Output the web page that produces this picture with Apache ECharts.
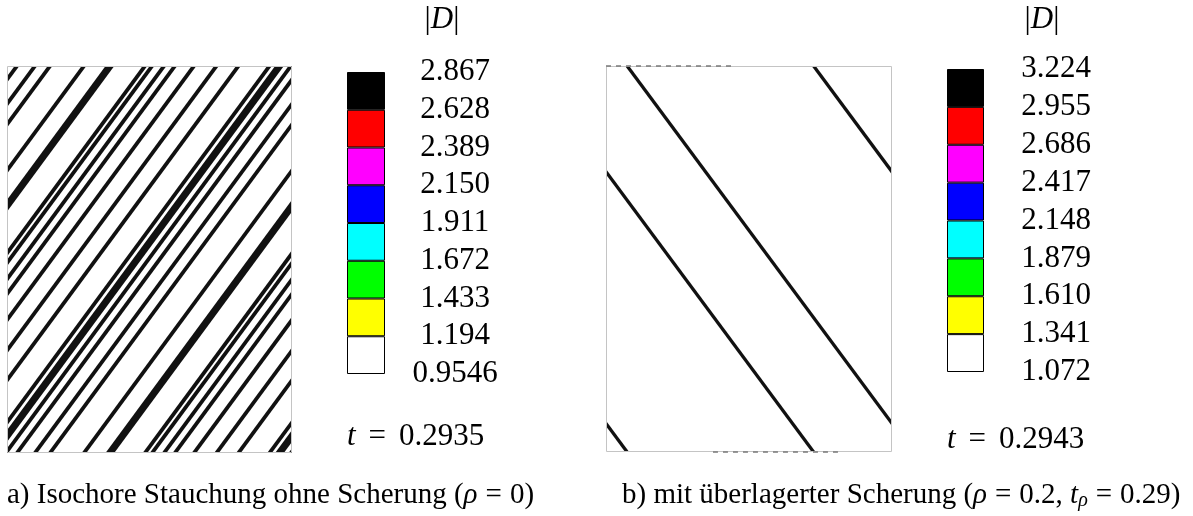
<!DOCTYPE html>
<html>
<head>
<meta charset="utf-8">
<script src="https://cdn.jsdelivr.net/npm/echarts@6/dist/echarts.min.js"></script>
<style>
  html, body { margin: 0; padding: 0; background: #ffffff; }
  #chart { width: 1193px; height: 516px; }
</style>
</head>
<body>
<div id="chart"></div>
<script>
// Shear bands: position where each band meets the top edge (fraction of specimen width).
// The field is periodic, so every band re-enters on the opposite edge.
const bandsA = [0.035, 0.098, 0.151, 0.270, 0.361, 0.484, 0.509, 0.551, 0.589, 0.656, 0.735, 0.812, 0.921, 0.956, 0.996];
const bandKindA = ['thin', 'thin', 'thin', 'thin', 'thick', 'thin', 'thin', 'thin', 'thin', 'thin', 'thin', 'thin', 'thin', 'thick', 'thin'];
const bandsB = [0.074, 0.726];
// faint partial traces along the top / bottom edge of panel b: [from, to, edge]
const edgeTracesB = [[0.0, 0.45, 1], [0.374, 0.811, 0]];

// |D| contour levels (bottom to top) and the colour of each interval
const levelsA = ['0.9546', '1.194', '1.433', '1.672', '1.911', '2.150', '2.389', '2.628', '2.867'];
const levelsB = ['1.072', '1.341', '1.610', '1.879', '2.148', '2.417', '2.686', '2.955', '3.224'];
const levelColors = ['#ffffff', '#ffff00', '#00ff00', '#00ffff', '#0000ff', '#ff00ff', '#ff0000', '#000000'];

const timeA = '0.2935';
const timeB = '0.2943';

const SERIF = '"Liberation Serif", "DejaVu Serif", serif';
const LINE_COLOR = '#111111';
const EXT = 0.012;

const panels = [
  { left: 7, top: 66, width: 285, height: 387 },
  { left: 606, top: 66, width: 286, height: 386 }
];

function hiddenValueAxis(idx) {
  return {
    type: 'value', gridIndex: idx, min: 0, max: 1,
    axisLine: { show: false }, axisTick: { show: false },
    axisLabel: { show: false }, splitLine: { show: false }
  };
}

function segSeries(coords, axisIdx, width, extra) {
  return Object.assign({
    type: 'line', xAxisIndex: axisIdx, yAxisIndex: axisIdx,
    data: coords, symbol: 'none', clip: true, silent: true,
    lineStyle: { color: LINE_COLOR, width: width, cap: 'butt' },
    z: 3
  }, extra || {});
}

const series = [];

// panel a: bands rising to the right
bandsA.forEach((p, i) => {
  const w = bandKindA[i] === 'thick' ? 7 : 3.8;
  series.push(segSeries([[p + EXT, 1 + EXT], [-EXT, 1 - p - EXT]], 0, w));
  series.push(segSeries([[1 + EXT, 1 - p + EXT], [p - EXT, -EXT]], 0, w));
});

// panel b: bands falling to the right
bandsB.forEach((p) => {
  series.push(segSeries([[p - EXT, 1 + EXT], [1 + EXT, p - EXT]], 1, 3.3));
  series.push(segSeries([[-EXT, p + EXT], [p + EXT, -EXT]], 1, 3.3));
});

edgeTracesB.forEach((t) => {
  series.push(segSeries([[t[0], t[2]], [t[1], t[2]]], 1, 1.5, {
    lineStyle: { color: '#7a7a7a', width: 1.6, type: [5, 5] }, clip: false, z: 200
  }));
});

// colour bars: one stacked segment per |D| interval
function colorBar(axisIdx, name) {
  levelColors.forEach((c, k) => {
    series.push({
      type: 'bar', name: name + k, stack: name,
      xAxisIndex: axisIdx, yAxisIndex: axisIdx,
      data: [1], barWidth: '100%', silent: true,
      itemStyle: { color: c, borderColor: '#000000', borderWidth: 1 }
    });
  });
}
colorBar(2, 'cbA');
colorBar(3, 'cbB');

function levelAxis(idx, levels, margin) {
  return {
    type: 'value', gridIndex: idx, min: 0, max: levels.length - 1, interval: 1,
    position: 'right',
    axisLine: { show: false }, axisTick: { show: false }, splitLine: { show: false },
    axisLabel: {
      formatter: (v) => levels[v], align: 'center', margin: margin,
      fontFamily: SERIF, fontSize: 31, color: '#000000'
    }
  };
}

function catAxis(idx) {
  return {
    type: 'category', gridIndex: idx, data: ['|D|'],
    axisLine: { show: false }, axisTick: { show: false },
    axisLabel: { show: false }, splitLine: { show: false }
  };
}

const rich = {
  n: { fontFamily: SERIF, fontSize: 31, color: '#000' },
  e: { fontFamily: SERIF, fontSize: 31, color: '#000', padding: [0, 13, 0, 13] },
  i: { fontFamily: SERIF, fontSize: 31, fontStyle: 'italic', color: '#000' }
};
const capRich = {
  n: { fontFamily: SERIF, fontSize: 29, color: '#000' },
  e: { fontFamily: SERIF, fontSize: 29, color: '#000', padding: [0, 8, 0, 8] },
  i: { fontFamily: SERIF, fontSize: 29, fontStyle: 'italic', color: '#000' },
  s: { fontFamily: SERIF, fontSize: 20, fontStyle: 'italic', color: '#000', padding: [12, 0, 0, 0] }
};

function label(x, y, text, r, align) {
  return {
    type: 'text', x: x, y: y, silent: true, z: 50,
    style: { text: text, rich: r, align: align || 'center', verticalAlign: 'middle' }
  };
}

// white frames hide the band ends outside each specimen, then the outline is drawn on top
function frame(pn) {
  const m = 14;
  const L = pn.left, T = pn.top, W = pn.width, H = pn.height;
  const mask = (x, y, w, h) => ({
    type: 'rect', silent: true, z: 100,
    shape: { x: x, y: y, width: w, height: h },
    style: { fill: '#ffffff' }
  });
  return [
    mask(L - m, T - m, m, H + 2 * m),
    mask(L + W, T - m, m, H + 2 * m),
    mask(L - m, T - m, W + 2 * m, m),
    mask(L - m, T + H, W + 2 * m, m),
    {
      type: 'rect', silent: true, z: 101,
      shape: { x: L + 0.5, y: T + 0.5, width: W - 1, height: H - 1 },
      style: { fill: null, stroke: '#c4c4c4', lineWidth: 1 }
    }
  ];
}

const option = {
  animation: false,
  backgroundColor: '#ffffff',
  grid: [
    Object.assign({}, panels[0]),
    Object.assign({}, panels[1]),
    { left: 347, top: 72, width: 38, height: 302 },
    { left: 947, top: 69, width: 37, height: 303 }
  ],
  xAxis: [hiddenValueAxis(0), hiddenValueAxis(1), catAxis(2), catAxis(3)],
  yAxis: [hiddenValueAxis(0), hiddenValueAxis(1), levelAxis(2, levelsA, 70), levelAxis(3, levelsB, 72)],
  series: series,
  graphic: [].concat(
    frame(panels[0]),
    frame(panels[1]),
    [
      label(442, 20, '{n||}{i|D}{n||}', rich),
      label(1042, 20, '{n||}{i|D}{n||}', rich),
      label(347, 437, '{i|t}{e|=}{n|' + timeA + '}', rich, 'left'),
      label(947, 440, '{i|t}{e|=}{n|' + timeB + '}', rich, 'left'),
      label(7, 495, '{n|a) Isochore Stauchung ohne Scherung (}{i|ρ}{e|=}{n|0)}', capRich, 'left'),
      label(622, 495, '{n|b) mit überlagerter Scherung (}{i|ρ}{e|=}{n|0.2, }{i|t}{s|ρ}{e|=}{n|0.29)}', capRich, 'left')
    ]
  )
};

const chart = echarts.init(document.getElementById('chart'), null, { renderer: 'canvas' });
chart.setOption(option);
</script>
</body>
</html>
